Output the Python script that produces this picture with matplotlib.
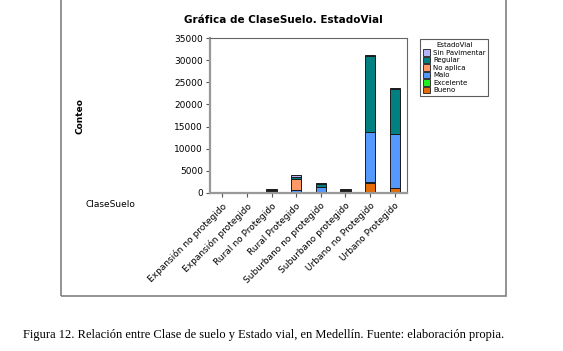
import matplotlib
matplotlib.use("Agg")
from matplotlib import pyplot as plt
from matplotlib.patches import Rectangle, Patch
import numpy as np

# categorias y conteos por estado vial
clases = ['Expansión no protegido', 'Expansión protegido', 'Rural no Protegido',
          'Rural Protegido', 'Suburbano no protegido', 'Suburbano protegido',
          'Urbano no Protegido', 'Urbano Protegido']
bueno = [0, 0, 30, 60, 100, 30, 2300, 1150]
excelente = [0, 0, 0, 0, 0, 0, 250, 0]
malo = [60, 60, 520, 700, 1150, 480, 11250, 12250]
no_aplica = [0, 0, 0, 2500, 50, 0, 0, 0]
regular = [220, 220, 150, 450, 700, 180, 17100, 10150]
sin_pav = [20, 20, 150, 450, 250, 180, 250, 150]

estados = ['Bueno', 'Excelente', 'Malo', 'No aplica', 'Regular', 'Sin Pavimentar']
series = [bueno, excelente, malo, no_aplica, regular, sin_pav]
colores = ['#e36c09', '#22ee22', '#5599ff', '#ff9966', '#008080', '#b4b4f8']

fig = plt.figure(figsize=(5.63, 3.51), dpi=100)

# marco exterior
fig.patches.append(Rectangle((61/563, 1 - 296/351), (506-61)/563, 296/351 + 0.05,
                             transform=fig.transFigure, fill=False,
                             edgecolor='#808080', lw=1.2))

ax = fig.add_axes([210/563, 1 - 193/351, 197/563, 155/351])
x = np.arange(len(clases))
base = np.zeros(len(clases))
for vals, c in zip(series, colores):
    vals = np.array(vals, dtype=float)
    ax.bar(x, vals, bottom=base, width=0.42, color=c, edgecolor='#1a1a1a', lw=0.7)
    base += vals

ax.set_ylim(0, 35000)
ax.set_xlim(-0.5, len(clases) - 0.5)
ax.set_yticks(np.arange(0, 35001, 5000))
ax.set_xticks(x)
ax.set_xticklabels(clases, rotation=45, ha='right', rotation_mode='anchor', fontsize=6.5)
ax.tick_params(axis='y', labelsize=6.5, length=3, pad=2, color='#555555')
ax.tick_params(axis='x', length=3, pad=3, color='#555555')
for s in ['left', 'bottom']:
    ax.spines[s].set_color('#999999')
    ax.spines[s].set_linewidth(1.6)
for s in ['top', 'right']:
    ax.spines[s].set_color('#666666')
    ax.spines[s].set_linewidth(0.8)

fig.text(283/563, 1 - 20/351, 'Gráfica de ClaseSuelo. EstadoVial', ha='center',
         va='center', fontsize=7.5, fontweight='bold')
fig.text(80/563, 1 - 116/351, 'Conteo', rotation=90, ha='center', va='center',
         fontsize=6.5, fontweight='bold')
fig.text(85/563, 1 - 204/351, 'ClaseSuelo', ha='left', va='center', fontsize=6.5)

handles = [Patch(facecolor=c, edgecolor='#333333', lw=0.7, label=e)
           for e, c in zip(estados, colores)][::-1]
leg = fig.legend(handles=handles, title='EstadoVial', loc='upper left',
                 bbox_to_anchor=(417/563, 1 - 36/351), fontsize=5, title_fontsize=5,
                 frameon=True, fancybox=False, edgecolor='#333333',
                 handlelength=1.0, handleheight=1.0, handletextpad=0.4,
                 labelspacing=0.15, borderpad=0.4)
leg.get_frame().set_linewidth(0.8)

fig.text(264/563, 1 - 335/351,
         'Figura 12. Relación entre Clase de suelo y Estado vial, en Medellín. Fuente: elaboración propia.',
         ha='center', va='center', fontsize=9, family='Liberation Serif')

fig.savefig('out.png', dpi=100)
